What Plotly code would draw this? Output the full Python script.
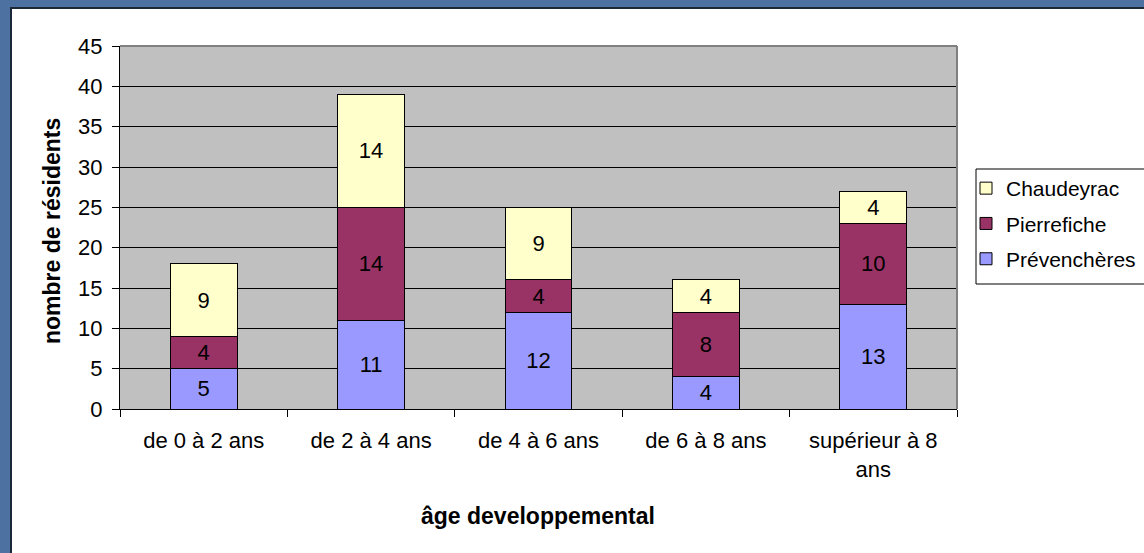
import plotly.graph_objects as go

categories = ["de 0 à 2 ans", "de 2 à 4 ans", "de 4 à 6 ans", "de 6 à 8 ans", "supérieur à 8<br>ans"]
prevencheres = [5, 11, 12, 4, 13]
pierrefiche = [4, 14, 4, 8, 10]
chaudeyrac = [9, 14, 9, 4, 4]

y_ticks = list(range(0, 46, 5))

FONT = "Liberation Sans, Arial, sans-serif"
W, H = 1144, 553
L, R, T, B = 120, 187, 46, 144
PW, PH = W - L - R, H - T - B


def px_x(px):
    return (px - L) / PW


def px_y(py):
    return (H - B - py) / PH


fig = go.Figure()
series = [
    ("Prévenchères", prevencheres, "#9999FF", 3),
    ("Pierrefiche", pierrefiche, "#993366", 2),
    ("Chaudeyrac", chaudeyrac, "#FFFFCC", 1),
]
for name, vals, col, rank in series:
    fig.add_trace(go.Bar(
        name=name, x=categories, y=vals,
        marker=dict(color=col, line=dict(color="black", width=1)),
        text=[str(v) for v in vals], textposition="inside",
        insidetextanchor="middle", textangle=0,
        textfont=dict(family=FONT, size=22, color="black"),
        legendgroup=name, legendrank=rank, hoverinfo="skip",
    ))

shapes = [
    # white chart panel with dark edge
    dict(type="rect", xref="paper", yref="paper", layer="below",
         x0=px_x(11), x1=px_x(1200), y0=px_y(620), y1=px_y(8),
         fillcolor="white", line=dict(color="#1c2838", width=2)),
    # grey plot area
    dict(type="rect", xref="paper", yref="paper", layer="below",
         x0=0, x1=1, y0=0, y1=1, fillcolor="#C0C0C0", line=dict(width=0)),
    # plot area border top/right
    dict(type="line", xref="paper", yref="paper", x0=0, x1=1, y0=1, y1=1,
         line=dict(color="#808080", width=2)),
    dict(type="line", xref="paper", yref="paper", x0=1, x1=1, y0=0, y1=1,
         line=dict(color="#808080", width=2)),
    # legend box
    dict(type="rect", xref="paper", yref="paper",
         x0=px_x(976), x1=px_x(1200), y0=px_y(284), y1=px_y(169),
         fillcolor="rgba(0,0,0,0)", line=dict(color="black", width=1)),
]

annotations = [
    dict(text="<b>nombre de résidents</b>", xref="paper", yref="paper",
         x=px_x(52), y=px_y(231), textangle=-90, showarrow=False,
         xanchor="center", yanchor="middle",
         font=dict(family=FONT, size=23, color="black")),
    dict(text="<b>âge developpemental</b>", xref="paper", yref="paper",
         x=px_x(538), y=px_y(516), showarrow=False,
         xanchor="center", yanchor="middle",
         font=dict(family=FONT, size=23, color="black")),
]

fig.update_layout(
    width=W, height=H,
    margin=dict(l=L, r=R, t=T, b=B, pad=0, autoexpand=False),
    paper_bgcolor="#4d71a0",
    plot_bgcolor="rgba(0,0,0,0)",
    barmode="stack",
    bargap=0.6,
    font=dict(family=FONT, size=22, color="black"),
    showlegend=True,
    legend=dict(x=px_x(966), y=px_y(168), xanchor="left", yanchor="top",
                traceorder="grouped", tracegroupgap=5,
                bgcolor="rgba(0,0,0,0)", borderwidth=0,
                font=dict(family=FONT, size=21, color="black")),
    shapes=shapes,
    annotations=annotations,
    uniformtext=dict(minsize=22, mode="show"),
)
fig.update_xaxes(
    type="category", showgrid=False, showline=True, linecolor="black", linewidth=1,
    ticks="outside", tickson="boundaries", ticklen=7, tickcolor="black",
    ticklabelstandoff=12,
    tickfont=dict(family=FONT, size=22, color="black"), zeroline=False,
)
fig.update_yaxes(
    range=[0, 45], tickvals=y_ticks, showgrid=True, gridcolor="black", gridwidth=1,
    showline=True, linecolor="black", linewidth=1, zeroline=False,
    ticks="outside", ticklen=7, tickcolor="black",
    ticklabelstandoff=5,
    tickfont=dict(family=FONT, size=22, color="black"),
)

fig.write_html(
    "out.html",
    config={"displayModeBar": False},
    post_script="document.body.style.margin='0';document.body.style.overflow='hidden';",
)
